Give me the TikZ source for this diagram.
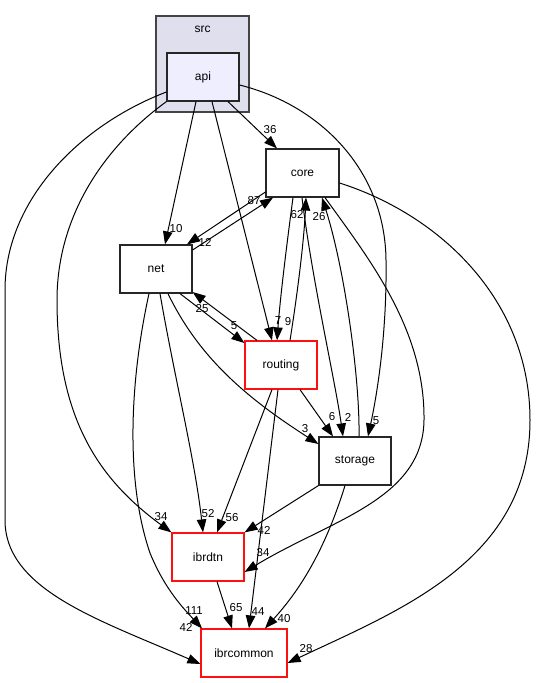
\documentclass[tikz,border=0pt]{standalone}
\usepackage{fontspec}
\setmainfont{Liberation Sans}
\usetikzlibrary{arrows.meta}
\definecolor{clusterfill}{HTML}{DFDFEE}
\definecolor{clusterdraw}{HTML}{444444}
\definecolor{apifill}{HTML}{EEEEFF}
\definecolor{redline}{HTML}{FF1010}
\tikzset{
  dirbox/.style={draw=black!85, line width=1.2pt, fill=white, minimum width=72pt, minimum height=48pt, inner sep=0pt, font=\fontsize{12}{14}\selectfont},
  redbox/.style={dirbox, draw=redline},
  dep/.style={line width=1pt, -{Triangle[length=13pt,width=9.5pt]}},
  lbl/.style={inner sep=0pt, font=\fontsize{11.5}{13}\selectfont}
}
\begin{document}
\begin{tikzpicture}[x=1pt,y=-1pt]
\useasboundingbox (0,0) rectangle (536,683);
% cluster
\node[draw=clusterdraw, fill=clusterfill, line width=1.3pt, minimum width=93pt, minimum height=96pt, inner sep=0pt] (src) at (202.5,64) {};
\node[font=\fontsize{12}{14}\selectfont, inner sep=0pt] (srclabel) at (202.5,29) {src};
% nodes
\node[dirbox, fill=apifill] (api) at (203,77) {api};
\node[dirbox, minimum width=73pt] (core) at (302.5,173) {core};
\node[dirbox] (net) at (156,269) {net};
\node[redbox] (routing) at (281,365) {routing};
\node[dirbox] (storage) at (355,461) {storage};
\node[redbox] (ibrdtn) at (208,557) {ibrdtn};
\node[redbox, minimum width=86pt] (ibrcommon) at (244,653) {ibrcommon};
% edges
\draw[dep] ([xshift=25pt]api.south) -- ([xshift=-25.5pt]core.north);
\draw[dep] ([xshift=-7pt]api.south) -- ([xshift=9pt]net.north);
\draw[dep] ([xshift=9pt]api.south) -- ([xshift=-9pt]routing.north);
\draw[dep] ([yshift=-8pt]api.east) .. controls (320,105) and (385,170) .. (386,260) .. controls (387,330) and (378,390) .. ([xshift=13pt]storage.north);
\draw[dep] (api.south west) .. controls (100,150) and (57,220) .. (57,300) .. controls (57,420) and (100,480) .. (ibrdtn.north west);
\draw[dep] ([yshift=-15pt]api.west) .. controls (80,125) and (5,200) .. (5,290) -- (5,520) .. controls (5,590) and (100,620) .. ([yshift=-11pt]ibrcommon.west);
\draw[dep] ([yshift=-19pt]core.west) -- ([xshift=31pt]net.north);
\draw[dep] ([yshift=19pt]net.east) -- ([xshift=-29.5pt]core.south);
\draw[dep] ([xshift=-9.5pt]core.south) .. controls (286,250) and (280,300) .. ([xshift=-4pt]routing.north);
\draw[dep] ([xshift=9pt]routing.north) .. controls (298,290) and (304,240) .. ([xshift=3.5pt]core.south);
\draw[dep] ([xshift=-0.5pt]core.south) .. controls (312,280) and (335,380) .. ([xshift=-12pt]storage.north);
\draw[dep] ([xshift=4pt]storage.north) .. controls (360,380) and (345,270) .. ([xshift=19.5pt]core.south);
\draw[dep] ([xshift=22.5pt]core.south) .. controls (370,260) and (425,330) .. (424,420) .. controls (423,500) and (330,520) .. ([yshift=-15pt]ibrdtn.east);
\draw[dep] ([yshift=-10pt]core.east) .. controls (440,215) and (530,300) .. (530,420) .. controls (530,560) and (400,610) .. ([yshift=-10pt]ibrcommon.east);
\draw[dep] ([xshift=24pt]net.south) -- ([yshift=22pt]routing.west);
\draw[dep] ([xshift=-24pt]routing.north) -- ([yshift=-23pt]net.east);
\draw[dep] ([xshift=12pt]net.south) .. controls (200,360) and (250,400) .. ([yshift=17pt]storage.west);
\draw[dep] ([xshift=4pt]net.south) .. controls (175,380) and (195,460) .. ([xshift=-5pt]ibrdtn.north);
\draw[dep] ([xshift=-7pt]net.south) .. controls (130,380) and (125,480) .. (150,553) .. controls (165,590) and (185,610) .. ([xshift=-42pt]ibrcommon.north);
\draw[dep] ([xshift=19pt]routing.south) -- ([xshift=-22pt]storage.north);
\draw[dep] ([xshift=-9pt]routing.south) -- ([xshift=9pt]ibrdtn.north);
\draw[dep] ([xshift=-3pt]routing.south) -- ([xshift=5pt]ibrcommon.north);
\draw[dep] (storage.south west) -- (ibrdtn.north east);
\draw[dep] ([xshift=-10pt]storage.south) .. controls (325,550) and (300,590) .. ([xshift=21pt]ibrcommon.north);
\draw[dep] ([xshift=9pt]ibrdtn.south) -- ([xshift=-12pt]ibrcommon.north);
% labels
\node[lbl] (l36) at (270,130) {36};
\node[lbl] (l10) at (176,229) {10};
\node[lbl] (l7) at (278,321) {7};
\node[lbl] (l9) at (288,322) {9};
\node[lbl] (l5a) at (376,421) {5};
\node[lbl] (l34a) at (161,517) {34};
\node[lbl] (l42a) at (186,627) {42};
\node[lbl] (l12) at (205,242) {12};
\node[lbl] (l87) at (254,201) {87};
\node[lbl] (l62) at (297,215) {62};
\node[lbl] (l26) at (319,217) {26};
\node[lbl] (l2) at (348,417) {2};
\node[lbl] (l34b) at (263,553) {34};
\node[lbl] (l28) at (306,649) {28};
\node[lbl] (l5b) at (234,326) {5};
\node[lbl] (l25) at (202,309) {25};
\node[lbl] (l3) at (305,429) {3};
\node[lbl] (l52) at (208,514) {52};
\node[lbl] (l111) at (194,611) {111};
\node[lbl] (l6) at (332,417) {6};
\node[lbl] (l56) at (232,518) {56};
\node[lbl] (l44) at (258,612) {44};
\node[lbl] (l42b) at (264,530) {42};
\node[lbl] (l40) at (284,619) {40};
\node[lbl] (l65) at (236,608) {65};
\end{tikzpicture}
\end{document}
